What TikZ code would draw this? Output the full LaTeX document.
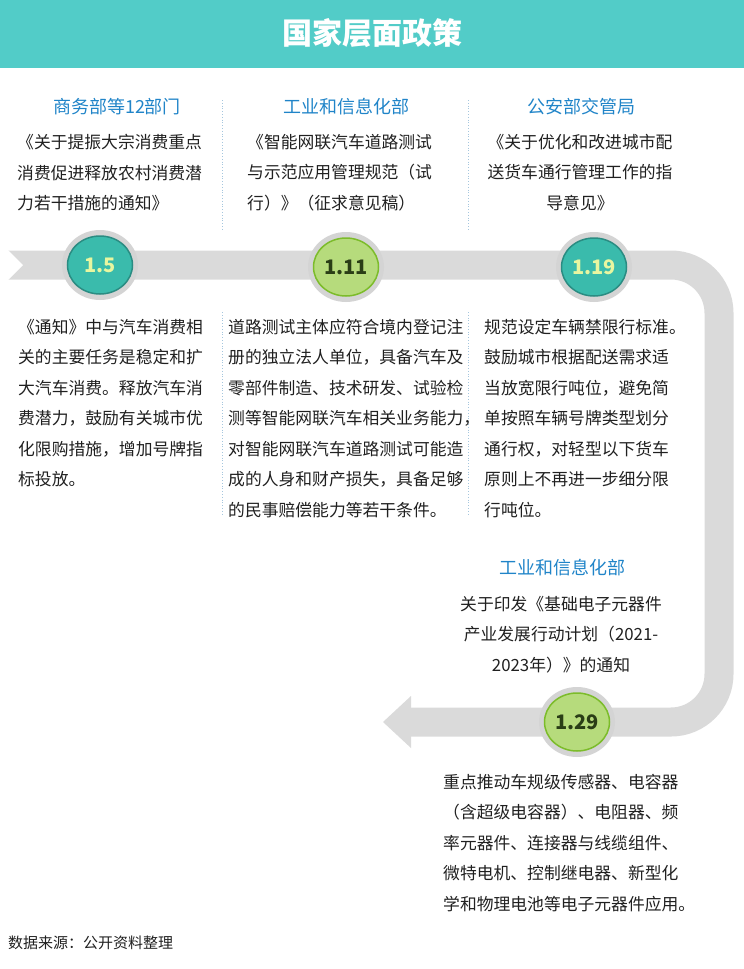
\documentclass[tikz,border=0pt]{standalone}
\usepackage{fontspec}
\setmainfont{Noto Sans CJK SC}
\usetikzlibrary{shapes.geometric}
\definecolor{headteal}{RGB}{82,204,200}
\definecolor{bandgray}{RGB}{218,218,218}
\definecolor{halogray}{RGB}{212,212,212}
\definecolor{tealfill}{RGB}{58,187,172}
\definecolor{tealline}{RGB}{42,140,130}
\definecolor{tealtext}{RGB}{232,246,160}
\definecolor{greenfill}{RGB}{182,219,124}
\definecolor{greenline}{RGB}{124,188,42}
\definecolor{greentext}{RGB}{42,62,22}
\definecolor{deptblue}{RGB}{32,132,200}
\definecolor{sepblue}{RGB}{165,198,222}
\definecolor{bodytext}{RGB}{32,32,32}
\tikzset{
	dept/.style={font=\fontsize{18}{22}\selectfont, text=deptblue, inner sep=0pt},
	body/.style={font=\fontsize{16.8}{30.5}\selectfont, text=bodytext, inner sep=0pt, align=left, anchor=north west},
	bodyc/.style={body, align=center, anchor=north},
	halo/.style={ellipse, fill=halogray, minimum width=76pt, minimum height=70pt, inner sep=0pt},
	tealdate/.style={ellipse, fill=tealfill, draw=tealline, line width=1.5pt, minimum width=65pt, minimum height=58pt, inner sep=0pt, text=tealtext, font=\fontsize{20}{24}\selectfont\bfseries},
	greendate/.style={tealdate, fill=greenfill, draw=greenline, text=greentext},
	sepline/.style={sepblue, dotted, line width=0.8pt}
}
\begin{document}
\begin{tikzpicture}[x=1pt, y=-1pt]
	\useasboundingbox (0,0) rectangle (744,969);
	\fill[headteal] (0,0) rectangle (744,68);
	\node[font=\fontsize{30}{36}\selectfont\bfseries, text=white, inner sep=0pt] (title) at (372,33) {国家层面政策};

	\draw[bandgray, line width=29pt, rounded corners=48pt] (8,265) -- (719,265) -- (719,722) -- (410,722);
	\fill[bandgray] (411,696) -- (383,722) -- (411,748) -- cycle;
	\fill[white] (7,249) -- (23,265) -- (7,281) -- cycle;

	\draw[sepline] (222,100) -- (222,230);
	\draw[sepline] (468,100) -- (468,230);
	\draw[sepline] (222,312) -- (222,515);
	\draw[sepline] (468,312) -- (468,515);

	\node[dept] (dept1) at (117,107) {商务部等12部门};
	\node[dept] (dept2) at (346,107) {工业和信息化部};
	\node[dept] (dept3) at (581,107) {公安部交管局};
	\node[dept] (dept4) at (562,568) {工业和信息化部};

	\node[body] (doc1) at (17,134) {《关于提振大宗消费重点\\消费促进释放农村消费潜\\力若干措施的通知》};
	\node[body] (doc2) at (247,134) {《智能网联汽车道路测试\\与示范应用管理规范（试\\行）》（征求意见稿）};
	\node[bodyc] (doc3) at (580,134) {《关于优化和改进城市配\\送货车通行管理工作的指\\导意见》};
	\node[bodyc] (doc4) at (561,596) {关于印发《基础电子元器件\\产业发展行动计划（2021-\\2023年）》的通知};

	\node[halo] (halo1) at (100,265) {};
	\node[tealdate] (date1) at (halo1) {1.5};
	\node[halo] (halo2) at (346,267) {};
	\node[greendate] (date2) at (halo2) {1.11};
	\node[halo] (halo3) at (594,267) {};
	\node[tealdate] (date3) at (halo3) {1.19};
	\node[halo] (halo4) at (577,722) {};
	\node[greendate] (date4) at (halo4) {1.29};

	\node[body] (text1) at (18,319) {《通知》中与汽车消费相\\关的主要任务是稳定和扩\\大汽车消费。释放汽车消\\费潜力，鼓励有关城市优\\化限购措施，增加号牌指\\标投放。};
	\node[body] (text2) at (228,319) {道路测试主体应符合境内登记注\\册的独立法人单位，具备汽车及\\零部件制造、技术研发、试验检\\测等智能网联汽车相关业务能力，\\对智能网联汽车道路测试可能造\\成的人身和财产损失，具备足够\\的民事赔偿能力等若干条件。};
	\node[body] (text3) at (484,319) {规范设定车辆禁限行标准。\\鼓励城市根据配送需求适\\当放宽限行吨位，避免简\\单按照车辆号牌类型划分\\通行权，对轻型以下货车\\原则上不再进一步细分限\\行吨位。};
	\node[body] (text4) at (443,774) {重点推动车规级传感器、电容器\\（含超级电容器）、电阻器、频\\率元器件、连接器与线缆组件、\\微特电机、控制继电器、新型化\\学和物理电池等电子元器件应用。};

	\node[font=\fontsize{15}{18}\selectfont, text=bodytext, inner sep=0pt, anchor=west] (source) at (8,943) {数据来源：公开资料整理};
\end{tikzpicture}
\end{document}
